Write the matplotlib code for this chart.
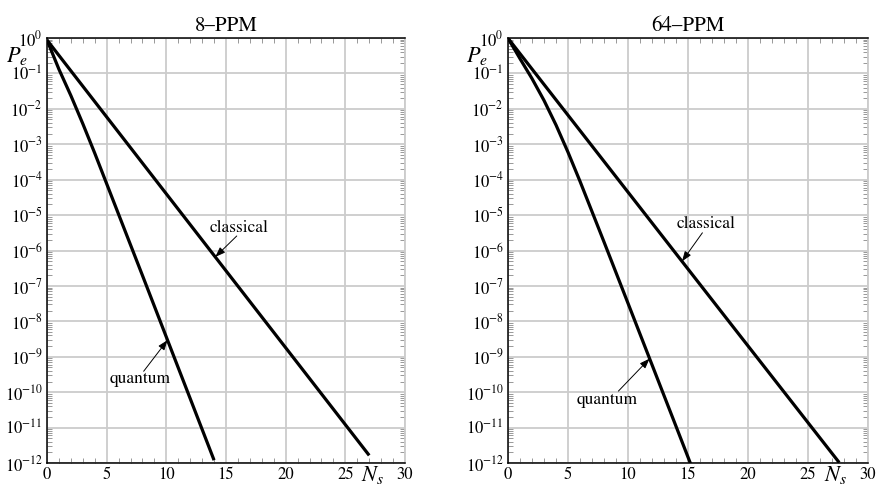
import numpy as np
import matplotlib
matplotlib.use("Agg")
import matplotlib.pyplot as plt
from matplotlib.ticker import LogLocator, MultipleLocator, NullFormatter, FixedLocator

plt.rcParams["font.family"] = ["STIXGeneral", "DejaVu Sans"]
plt.rcParams["mathtext.fontset"] = "stix"

# Error probability vs. mean signal photons, 8-PPM
ns_q8 = [0, 1, 2, 3, 4, 6, 8, 10, 12, 14]
pe_q8 = [0.875, 0.131, 0.0237, 3.8e-3, 5.6e-4, 1.05e-5, 1.97e-7, 3.6e-9, 6.6e-11, 1.2e-12]
ns_c8 = [0, 9, 18, 27]
pe_c8 = [0.875, 1.08e-4, 1.33e-8, 1.64e-12]

# 64-PPM
ns_q64 = [0, 1, 2, 3, 4, 5, 6, 8, 10, 12, 14, 15.2]
pe_q64 = [0.984, 0.261, 0.0715, 0.0173, 3.5e-3, 5.96e-4, 9.0e-5, 1.75e-6, 3.24e-8, 5.95e-10, 1.09e-11, 9.8e-13]
ns_c64 = [0, 9.2, 18.4, 27.6]
pe_c64 = [0.984, 9.9e-5, 1.0e-8, 1.03e-12]

titles = ["8\u2013PPM", "64\u2013PPM"]
x_ticks = [0, 5, 10, 15, 20, 25, 30]
y_exps = list(range(-12, 1))

panels = [
    dict(title=titles[0], q=(ns_q8, pe_q8), c=(ns_c8, pe_c8),
         c_txt=(16.1, 10**-5.37), c_tail=(15.9, 10**-5.59), c_head=14.1,
         q_txt=(7.8, 10**-9.63), q_tail=(8.1, 10**-9.41), q_head=10.1),
    dict(title=titles[1], q=(ns_q64, pe_q64), c=(ns_c64, pe_c64),
         c_txt=(16.5, 10**-5.25), c_tail=(16.2, 10**-5.5), c_head=14.5,
         q_txt=(8.25, 10**-10.23), q_tail=(9.2, 10**-9.97), q_head=11.8),
]

fig = plt.figure(figsize=(8.78, 4.91), dpi=100)
rects = [[47 / 878, 28 / 491, 358 / 878, 425 / 491],
         [508 / 878, 28 / 491, 360 / 878, 425 / 491]]

grid_col = "#cccccc"

def interp_log(xs, ys, x0):
    return 10 ** np.interp(x0, xs, np.log10(ys))

for rect, p in zip(rects, panels):
    ax = fig.add_axes(rect)
    ax.set_yscale("log")
    ax.set_xlim(0, 30)
    ax.set_ylim(1e-12, 1)

    ax.plot(*p["q"], color="black", lw=2.3, solid_capstyle="butt", zorder=3)
    ax.plot(*p["c"], color="black", lw=2.3, solid_capstyle="butt", zorder=3)

    ax.xaxis.set_major_locator(FixedLocator(x_ticks))
    ax.xaxis.set_minor_locator(MultipleLocator(1))
    ax.yaxis.set_major_locator(FixedLocator([10.0 ** e for e in y_exps]))
    ax.yaxis.set_minor_locator(LogLocator(base=10, subs=np.arange(2, 10), numticks=30))
    ax.yaxis.set_minor_formatter(NullFormatter())
    ax.set_xticklabels([str(t) for t in x_ticks])
    ax.set_yticklabels([r"$10^{%d}$" % e for e in y_exps])

    ax.grid(True, which="major", color=grid_col, lw=1.3, zorder=0)
    ax.tick_params(which="both", direction="in", top=True, right=True,
                   labelsize=12, color="#888888")
    ax.tick_params(which="major", length=0, pad=3)
    ax.tick_params(which="minor", length=3.5, width=0.6)

    for side in ("left", "bottom", "top"):
        ax.spines[side].set_color("black")
        ax.spines[side].set_linewidth(1.1)
    ax.spines["right"].set_color(grid_col)
    ax.spines["right"].set_linewidth(1.3)

    ax.set_title(p["title"], fontsize=15, pad=5)

    ax.text(-0.085, 0.958, r"$P_e$", transform=ax.transAxes, fontsize=16,
            ha="center", va="center")
    ax.text(27.3, -0.028, r"$N_s$", transform=ax.get_xaxis_transform(),
            fontsize=16, ha="center", va="center")

    ch = p["c_head"]
    ax.annotate("", xy=(ch, interp_log(*p["c"], ch)), xytext=p["c_tail"],
                arrowprops=dict(arrowstyle="-|>,head_length=0.6,head_width=0.22",
                                color="black", lw=0.7, shrinkA=0, shrinkB=0), zorder=4)
    ax.text(*p["c_txt"], "classical", fontsize=12.5, ha="center", va="center")

    qh = p["q_head"]
    ax.annotate("", xy=(qh, interp_log(*p["q"], qh)), xytext=p["q_tail"],
                arrowprops=dict(arrowstyle="-|>,head_length=0.6,head_width=0.22",
                                color="black", lw=0.7, shrinkA=0, shrinkB=0), zorder=4)
    ax.text(*p["q_txt"], "quantum", fontsize=12.5, ha="center", va="center")

fig.savefig("out.png", dpi=100)
